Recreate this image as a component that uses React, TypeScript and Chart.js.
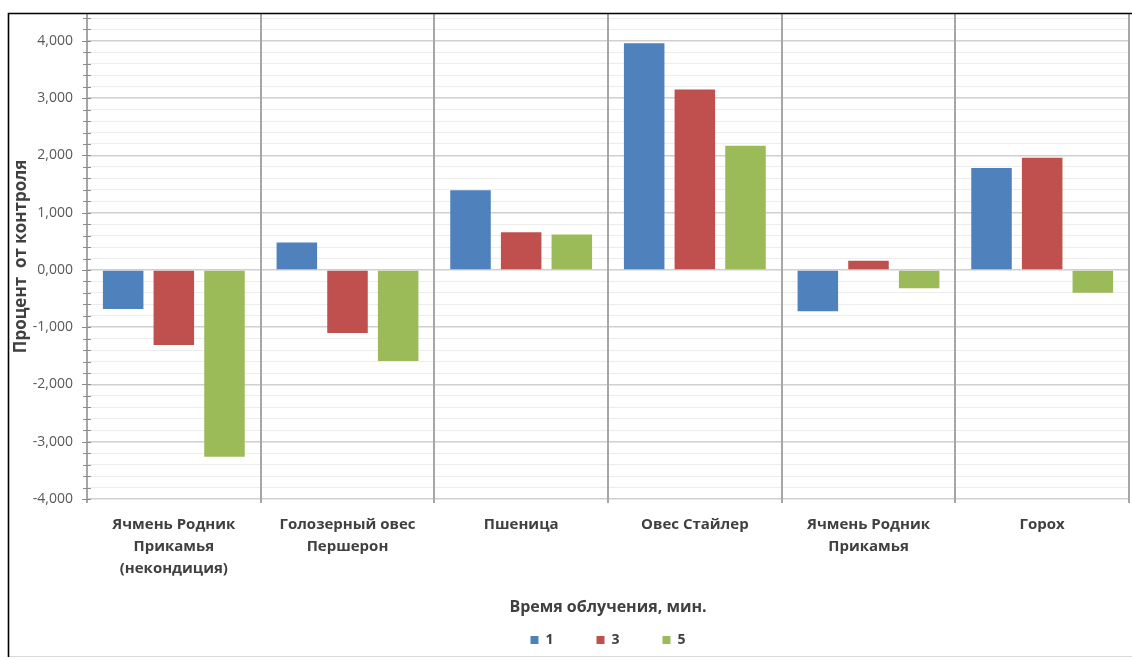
import React, { useEffect, useRef } from 'react';
import { Chart, registerables } from 'chart.js';

Chart.register(...registerables);

// Category names (multi-line where the label wraps)
const categories: (string | string[])[] = [
  ['Ячмень Родник', 'Прикамья', '(некондиция)'],
  ['Голозерный овес', 'Першерон'],
  'Пшеница',
  'Овес Стайлер',
  ['Ячмень Родник', 'Прикамья'],
  'Горох',
];

// Irradiation time series (minutes)
const seriesLabels = ['1', '3', '5'];
const series1 = [-0.68, 0.48, 1.39, 3.96, -0.72, 1.78];
const series3 = [-1.31, -1.1, 0.66, 3.15, 0.16, 1.96];
const series5 = [-3.26, -1.59, 0.62, 2.17, -0.32, -0.4];
const seriesColors = ['#4f81bd', '#c0504d', '#9bbb59'];

// Value axis
const yMin = -4;
const yMax = 4.47;
const yStep = 0.2;
const yTitle = 'Процент  от контроля';
const xTitle = 'Время облучения, мин.';

const FONT = "'Open Sans', 'DejaVu Sans', sans-serif";

const isMajor = (v: number) => Math.abs(v - Math.round(v)) < 1e-6;
const fmt = (v: number) => {
  const r = Math.round(v);
  return (r === 0 ? 0 : r).toFixed(3).replace('.', ',');
};

// White background and the outer frame
const framePlugin = {
  id: 'frame',
  beforeDraw(chart: any) {
    const { ctx, width, height } = chart;
    ctx.save();
    ctx.fillStyle = '#ffffff';
    ctx.fillRect(0, 0, width, height);
    ctx.restore();
  },
  afterDraw(chart: any) {
    const { ctx, width } = chart;
    ctx.save();
    ctx.strokeStyle = '#d9d9d9';
    ctx.lineWidth = 1;
    ctx.beginPath();
    ctx.moveTo(8, 656.5);
    ctx.lineTo(width, 656.5);
    ctx.stroke();
    ctx.strokeStyle = '#000000';
    ctx.lineWidth = 1.6;
    ctx.beginPath();
    ctx.moveTo(8.5, 657);
    ctx.lineTo(8.5, 13.5);
    ctx.lineTo(width, 13.5);
    ctx.stroke();
    ctx.restore();
  },
};

// Tick marks that cross the value axis line
const crossTicksPlugin = {
  id: 'crossTicks',
  afterDatasetsDraw(chart: any) {
    const { ctx } = chart;
    const y = chart.scales.y;
    const x0 = chart.chartArea.left;
    ctx.save();
    ctx.strokeStyle = '#8c8c8c';
    ctx.lineWidth = 1;
    ctx.beginPath();
    y.ticks.forEach((t: any) => {
      const py = Math.round(y.getPixelForValue(t.value)) + 0.5;
      const left = isMajor(t.value) ? 5 : 4;
      ctx.moveTo(x0 - left, py);
      ctx.lineTo(x0 + 4, py);
    });
    ctx.stroke();
    ctx.restore();
  },
};

export default function App() {
  const canvasRef = useRef<HTMLCanvasElement | null>(null);

  useEffect(() => {
    const canvas = canvasRef.current;
    if (!canvas) return;
    const seriesData = [series1, series3, series5];
    const chart = new Chart(canvas, {
      type: 'bar',
      data: {
        labels: categories,
        datasets: seriesLabels.map((label, i) => ({
          label,
          data: seriesData[i],
          backgroundColor: seriesColors[i],
          borderWidth: 0,
          categoryPercentage: 0.875,
          barPercentage: 0.8,
        })),
      },
      options: {
        responsive: false,
        animation: false,
        devicePixelRatio: 1,
        layout: { padding: { left: 8, top: 14, right: 3, bottom: 3 } },
        plugins: {
          tooltip: { enabled: false },
          legend: {
            position: 'bottom',
            fullSize: false,
            title: {
              display: true,
              text: xTitle,
              color: '#404040',
              font: { family: FONT, size: 16, weight: 'bold', lineHeight: 1.2 },
              padding: { top: 0, bottom: -28.7 },
            },
            labels: {
              boxWidth: 8,
              boxHeight: 8,
              padding: 43,
              color: '#404040',
              font: { family: FONT, size: 14, weight: 'bold' },
            },
          },
        },
        scales: {
          x: {
            offset: true,
            grid: {
              offset: true,
              color: '#a6a6a6',
              lineWidth: 2,
              drawTicks: true,
              tickLength: 4,
              z: 0,
            },
            border: { display: false },
            ticks: {
              autoSkip: false,
              maxRotation: 0,
              minRotation: 0,
              padding: 11,
              color: '#404040',
              font: { family: FONT, size: 15, weight: 'bold', lineHeight: 1.47 },
            },
            afterFit: (s: any) => {
              s.height = 100.5;
              s.paddingLeft = 0;
              s.paddingRight = 0;
            },
          },
          y: {
            min: yMin,
            max: yMax,
            bounds: 'data',
            grid: {
              drawTicks: false,
              color: (c: any) => (c.tick && isMajor(c.tick.value) ? '#d0d0d0' : '#ececec'),
              lineWidth: (c: any) => (c.tick && isMajor(c.tick.value) ? 1.5 : 1),
            },
            border: { display: true, color: '#a6a6a6', width: 2 },
            ticks: {
              stepSize: yStep,
              includeBounds: false,
              autoSkip: false,
              padding: 14,
              color: '#595959',
              font: { family: FONT, size: 14 },
              callback: (v: any) => (isMajor(Number(v)) ? fmt(Number(v)) : ''),
            },
            title: {
              display: true,
              text: yTitle,
              color: '#404040',
              font: { family: FONT, size: 17, weight: 'bold', lineHeight: 1.2 },
              padding: { top: 3, bottom: 4 },
            },
            afterFit: (s: any) => {
              s.width = 79;
              s.paddingTop = 0;
              s.paddingBottom = 0;
            },
          },
        },
      },
      plugins: [framePlugin, crossTicksPlugin],
    } as any);
    return () => chart.destroy();
  }, []);

  return (
    <div style={{ position: 'absolute', left: 0, top: 0, width: 1132, height: 660, background: '#fff' }}>
      <canvas ref={canvasRef} width={1132} height={660} style={{ display: 'block' }} />
    </div>
  );
}
